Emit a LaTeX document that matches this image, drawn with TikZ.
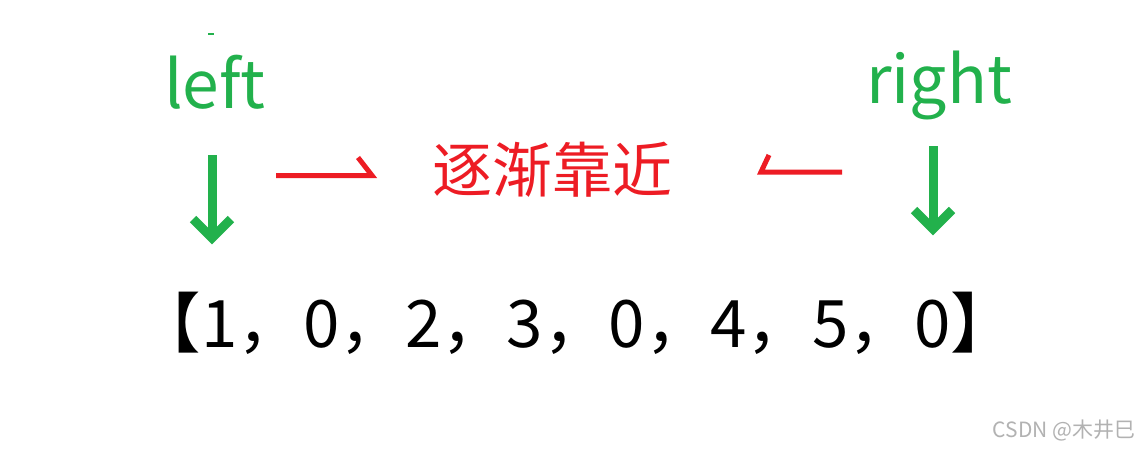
\documentclass[tikz,border=0pt]{standalone}
\usepackage{fontspec}
\setmainfont{Noto Sans CJK SC}
\definecolor{pgreen}{RGB}{34,177,76}
\definecolor{pred}{RGB}{237,28,36}
\definecolor{wmark}{RGB}{178,178,178}
\tikzset{
  greenlabel/.style={text=pgreen, font=\fontsize{66}{70}\selectfont, inner sep=0pt, anchor=base},
  redlabel/.style={text=pred, font=\fontsize{60}{64}\selectfont, inner sep=0pt, anchor=base},
  arraylabel/.style={text=black, font=\fontsize{65.5}{70}\selectfont, inner sep=0pt, anchor=base},
  wmarklabel/.style={text=wmark, font=\fontsize{21}{24}\selectfont, inner sep=0pt},
  greenarrow/.style={draw=pgreen, line width=9pt, line join=miter},
  redarrow/.style={draw=pred, line width=5pt, line join=miter},
}
\begin{document}
\begin{tikzpicture}[x=1pt,y=-1pt]
\useasboundingbox (0,0) rectangle (1144,450);
\fill[white] (0,0) rectangle (1144,450);
% tiny green dash
\fill[pgreen] (208,32.5) rectangle (214,34.5);
% labels
\node[greenlabel] (left) at (215,108) {left};
\node[greenlabel] (right) at (939,103) {right};
\node[redlabel] (near) at (552,192) {逐渐靠近};
\node[arraylabel] (arr) at (576,347) {【1，0，2，3，0，4，5，0】};
\node[wmarklabel] (wm) at (1064,431) {CSDN @木井巳};
% green arrows
\coordinate (lTop) at (212,155);
\coordinate (lTip) at (212,238);
\draw[greenarrow] (lTop) -- (lTip);
\draw[greenarrow] (lTip) ++(-19,-19) -- (lTip) -- ++(19,-19);
\coordinate (rTop) at (933,146);
\coordinate (rTip) at (933,229);
\draw[greenarrow] (rTop) -- (rTip);
\draw[greenarrow] (rTip) ++(-19,-19) -- (rTip) -- ++(19,-19);
% red half arrows
\coordinate (aStart) at (276,175.5);
\coordinate (aEnd) at (372,175.5);
\draw[redarrow] (aStart) -- (aEnd) -- ++(-14,-18);
\coordinate (bStart) at (842,172);
\coordinate (bEnd) at (761,172);
\draw[redarrow] (bStart) -- (bEnd) -- ++(8,-17);
\end{tikzpicture}
\end{document}
